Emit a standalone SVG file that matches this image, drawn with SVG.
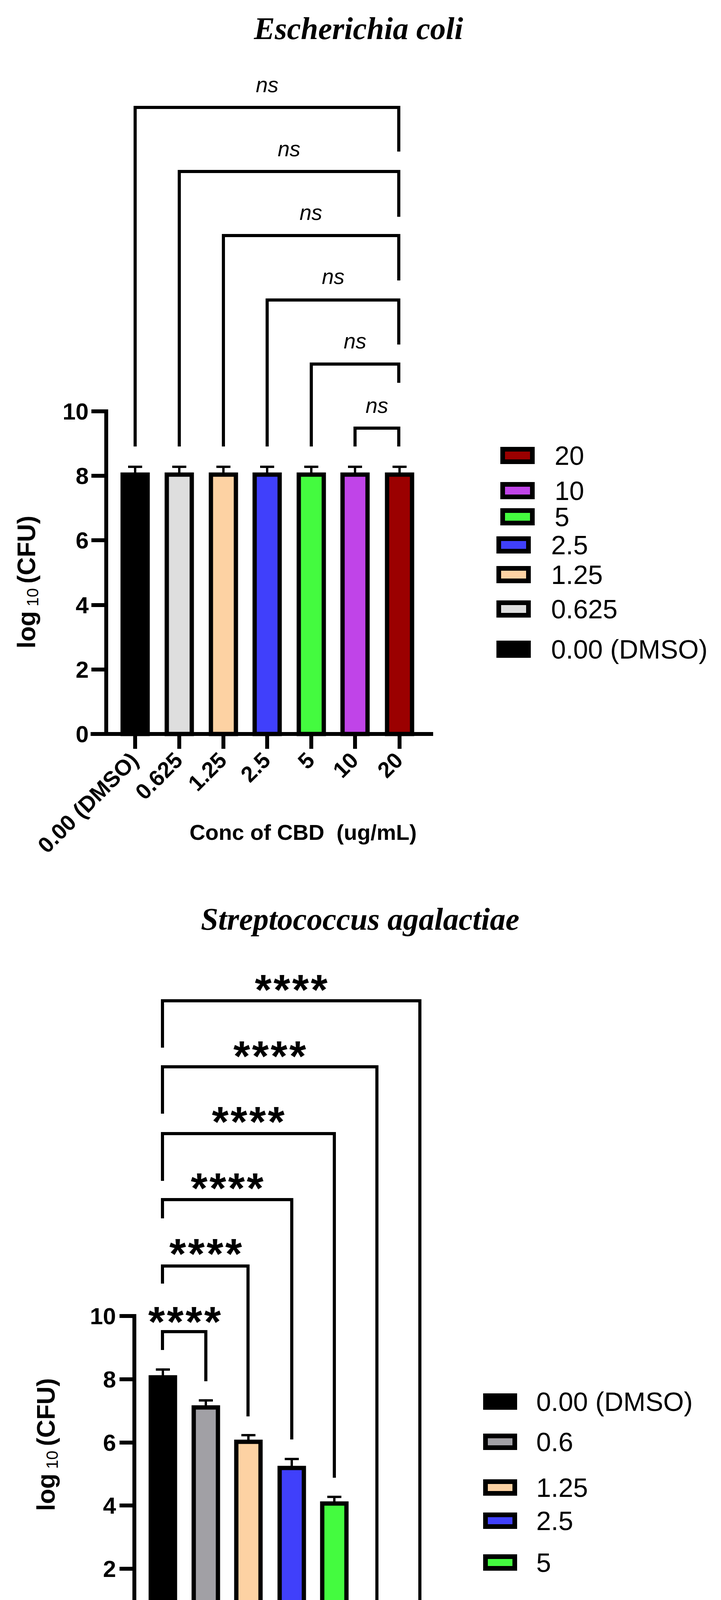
<svg xmlns="http://www.w3.org/2000/svg" width="1846" height="4555" viewBox="0 0 1846 4555">
<style>
.ax{stroke:#000;stroke-width:10;fill:none;stroke-linecap:square}
.br{stroke:#000;stroke-width:8;fill:none}
.eb{stroke:#000;stroke-width:6;fill:none}
.bar{stroke:#000;stroke-width:11}
.lg{stroke:#000;stroke-width:12}
.tk{font-family:"Liberation Sans",Arial,sans-serif;font-weight:bold;font-size:60px;text-anchor:end}
.xl{font-family:"Liberation Sans",Arial,sans-serif;font-weight:bold;font-size:57px;text-anchor:end}
.ttl{font-family:"Liberation Serif","Times New Roman",serif;font-weight:bold;font-style:italic;font-size:80px;text-anchor:middle}
.ns{font-family:"Liberation Sans",Arial,sans-serif;font-style:italic;font-size:55px;text-anchor:middle}
.st{font-family:"Liberation Sans",Arial,sans-serif;font-weight:bold;font-size:110px;letter-spacing:5px;text-anchor:middle}
.lt{font-family:"Liberation Sans",Arial,sans-serif;font-size:68px}
.at{font-family:"Liberation Sans",Arial,sans-serif;font-weight:bold;font-size:56px;text-anchor:middle}
.yl{font-family:"Liberation Sans",Arial,sans-serif;font-weight:bold;font-size:64px;text-anchor:middle}
</style>
<rect width="1846" height="4555" fill="#fff"/>

<!-- Chart 1 -->
<g id="title1"><text class="ttl" x="918" y="100">Escherichia coli</text></g>
<g id="axes1">
<path class="ax" d="M272 1053 V1879 M237 1879 H1104"/>
<path class="ax" d="M239 1053 H272 M239 1218 H272 M239 1383 H272 M239 1549 H272 M239 1714 H272"/>
<path class="ax" d="M346 1879 V1912 M459 1879 V1912 M572 1879 V1912 M684 1879 V1912 M797 1879 V1912 M909 1879 V1912 M1023 1879 V1912"/>
<text class="tk" x="227" y="1074">10</text>
<text class="tk" x="227" y="1239">8</text>
<text class="tk" x="227" y="1404">6</text>
<text class="tk" x="227" y="1570">4</text>
<text class="tk" x="227" y="1735">2</text>
<text class="tk" x="227" y="1900">0</text>
</g>
<g id="bars1">
<rect class="bar" x="314" y="1215" width="64" height="664" fill="#000"/>
<rect class="bar" x="427" y="1215" width="64" height="664" fill="#dedede"/>
<rect class="bar" x="540" y="1215" width="64" height="664" fill="#fdd2a3"/>
<rect class="bar" x="652" y="1215" width="64" height="664" fill="#4040fb"/>
<rect class="bar" x="765" y="1215" width="64" height="664" fill="#44fb3f"/>
<rect class="bar" x="877" y="1215" width="64" height="664" fill="#c044e8"/>
<rect class="bar" x="991" y="1215" width="64" height="664" fill="#9b0000"/>
<path class="eb" d="M346 1210 V1195 M328 1195 H364 M459 1210 V1195 M441 1195 H477 M572 1210 V1195 M554 1195 H590 M684 1210 V1195 M666 1195 H702 M797 1210 V1195 M779 1195 H815 M909 1210 V1195 M891 1195 H927 M1023 1210 V1195 M1005 1195 H1041"/>
</g>
<g id="connectors1">
<path class="br" d="M346 1143 V275 H1021 V388"/>
<path class="br" d="M459 1143 V439 H1021 V555"/>
<path class="br" d="M572 1143 V603 H1021 V718"/>
<path class="br" d="M684 1143 V768 H1021 V882"/>
<path class="br" d="M797 1143 V932 H1021 V980"/>
<path class="br" d="M909 1143 V1096 H1021 V1143"/>
<text class="ns" x="684" y="236">ns</text>
<text class="ns" x="740" y="400">ns</text>
<text class="ns" x="796" y="563">ns</text>
<text class="ns" x="853" y="727">ns</text>
<text class="ns" x="909" y="892">ns</text>
<text class="ns" x="965" y="1057">ns</text>
</g>
<g id="xlabels1">
<text class="xl" transform="translate(358 1950) rotate(-45)">0.00 (DMSO)</text>
<text class="xl" transform="translate(471 1950) rotate(-45)">0.625</text>
<text class="xl" transform="translate(584 1950) rotate(-45)">1.25</text>
<text class="xl" transform="translate(696 1950) rotate(-45)">2.5</text>
<text class="xl" transform="translate(809 1950) rotate(-45)">5</text>
<text class="xl" transform="translate(921 1950) rotate(-45)">10</text>
<text class="xl" transform="translate(1035 1950) rotate(-45)">20</text>
<text class="at" x="776" y="2150" xml:space="preserve">Conc of CBD  (ug/mL)</text>
<text class="yl" transform="translate(90 1490) rotate(-90)">log<tspan font-size="42" font-weight="normal" dy="8"> 10 </tspan><tspan dy="-8">(CFU)</tspan></text>
</g>
<g id="legend1">
<rect class="lg" x="1287" y="1150" width="76" height="32" fill="#9b0000"/>
<text class="lt" x="1420" y="1190">20</text>
<rect class="lg" x="1287" y="1240" width="76" height="32" fill="#c044e8"/>
<text class="lt" x="1420" y="1280">10</text>
<rect class="lg" x="1287" y="1307" width="76" height="32" fill="#44fb3f"/>
<text class="lt" x="1420" y="1347">5</text>
<rect class="lg" x="1277" y="1379" width="76" height="32" fill="#4040fb"/>
<text class="lt" x="1411" y="1419">2.5</text>
<rect class="lg" x="1277" y="1455" width="76" height="32" fill="#fdd2a3"/>
<text class="lt" x="1411" y="1495">1.25</text>
<rect class="lg" x="1277" y="1543" width="76" height="32" fill="#dedede"/>
<text class="lt" x="1411" y="1583">0.625</text>
<rect x="1271" y="1640" width="88" height="44" fill="#000"/>
<text class="lt" x="1411" y="1686">0.00 (DMSO)</text>
</g>

<!-- Chart 2 -->
<g id="title2"><text class="ttl" x="922" y="2380">Streptococcus agalactiae</text></g>
<g id="axes2">
<path class="ax" d="M344 3369 V4178 M311 4178 H1159"/>
<path class="ax" d="M311 3369 H344 M311 3531 H344 M311 3693 H344 M311 3854 H344 M311 4016 H344"/>
<path class="ax" d="M417 4178 V4212 M527 4178 V4212 M636 4178 V4212 M747 4178 V4212 M856 4178 V4212 M965 4178 V4212 M1075 4178 V4212"/>
<text class="tk" x="297" y="3390">10</text>
<text class="tk" x="297" y="3552">8</text>
<text class="tk" x="297" y="3714">6</text>
<text class="tk" x="297" y="3875">4</text>
<text class="tk" x="297" y="4037">2</text>
<text class="tk" x="297" y="4199">0</text>
</g>
<g id="bars2">
<rect class="bar" x="386" y="3526" width="62" height="652" fill="#000"/>
<rect class="bar" x="496" y="3603" width="62" height="575" fill="#a1a0a5"/>
<rect class="bar" x="605" y="3691" width="62" height="487" fill="#fdd2a3"/>
<rect class="bar" x="716" y="3758" width="62" height="420" fill="#4040fb"/>
<rect class="bar" x="825" y="3849" width="62" height="329" fill="#44fb3f"/>
<path class="eb" d="M417 3521 V3506 M399 3506 H435 M527 3598 V3585 M509 3585 H545 M636 3686 V3674 M618 3674 H654 M747 3753 V3735 M729 3735 H765 M856 3844 V3832 M838 3832 H874"/>
</g>
<g id="connectors2">
<path class="br" d="M416 2682 V2562 H1075 V4129"/>
<path class="br" d="M416 2851 V2731 H965 V4129"/>
<path class="br" d="M416 3023 V2902 H856 V3783"/>
<path class="br" d="M416 3119 V3071 H747 V3685"/>
<path class="br" d="M416 3286 V3241 H635 V3626"/>
<path class="br" d="M416 3456 V3409 H527 V3536"/>
<text class="st" x="748" y="2571">****</text>
<text class="st" x="693" y="2741">****</text>
<text class="st" x="638" y="2909">****</text>
<text class="st" x="584" y="3079">****</text>
<text class="st" x="529" y="3247">****</text>
<text class="st" x="475" y="3421">****</text>
</g>
<g id="xlabels2">
<text class="xl" transform="translate(429 4250) rotate(-45)">0.00 (DMSO)</text>
<text class="xl" transform="translate(539 4250) rotate(-45)">0.6</text>
<text class="xl" transform="translate(648 4250) rotate(-45)">1.25</text>
<text class="xl" transform="translate(759 4250) rotate(-45)">2.5</text>
<text class="xl" transform="translate(868 4250) rotate(-45)">5</text>
<text class="xl" transform="translate(977 4250) rotate(-45)">10</text>
<text class="xl" transform="translate(1087 4250) rotate(-45)">20</text>
<text class="at" x="726" y="4454" xml:space="preserve">Conc of CBD  (ug/mL)</text>
<text class="yl" transform="translate(140 3698) rotate(-90)">log<tspan font-size="42" font-weight="normal" dy="8"> 10 </tspan><tspan dy="-8">(CFU)</tspan></text>
</g>
<g id="legend2">
<rect x="1237" y="3567" width="87" height="42" fill="#000"/>
<text class="lt" x="1373" y="3612">0.00 (DMSO)</text>
<rect class="lg" x="1243" y="3676" width="75" height="30" fill="#a1a0a5"/>
<text class="lt" x="1373" y="3715">0.6</text>
<rect class="lg" x="1243" y="3793" width="75" height="30" fill="#fdd2a3"/>
<text class="lt" x="1373" y="3832">1.25</text>
<rect class="lg" x="1243" y="3878" width="75" height="30" fill="#4040fb"/>
<text class="lt" x="1373" y="3917">2.5</text>
<rect class="lg" x="1243" y="3985" width="75" height="30" fill="#44fb3f"/>
<text class="lt" x="1373" y="4024">5</text>
</g>
</svg>
